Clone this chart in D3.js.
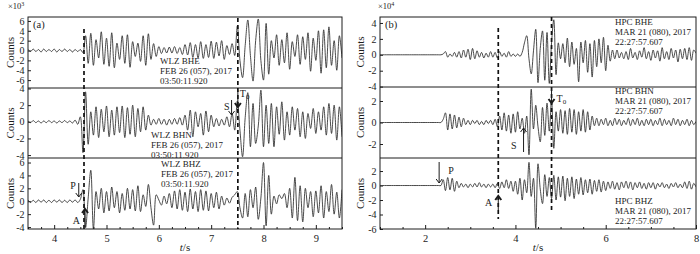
<!DOCTYPE html>
<html>
<head>
<meta charset="utf-8">
<script src="https://cdn.jsdelivr.net/npm/d3@7/dist/d3.min.js"></script>
<style>
  body { margin: 0; background: #fff; }
  svg { font-family: "Liberation Serif", "Times New Roman", serif; }
</style>
</head>
<body>
<div id="chart"></div>
<script>
// ---- data: panel (a), WLZ station, samples every 0.05 s from 3.5 s ----
const tStartA = 3.5, dtA = 0.05;
const wlzBHE = [
  0.2,-0.2,0.3,-0.2,0.2,-0.3,0.3,-0.2,0.2,-0.2,
  0.3,-0.3,0.2,-0.2,0.3,-0.2,0.2,-0.3,0.2,-0.2,
  0.2,-0.4,3.0,-2.6,3.5,-3.0,2.2,-1.5,3.8,-2.8,
  2.5,-3.2,3.6,-3.5,1.5,-1.8,3.0,-2.6,3.2,-3.4,
  1.8,-1.2,1.5,-2.2,3.0,-3.0,3.4,-1.8,1.4,-1.2,
  0.8,-0.6,0.6,-0.5,0.7,-0.5,0.8,-0.6,0.6,-0.8,
  1.2,-0.9,1.6,-1.4,1.2,-1.5,1.8,-1.6,1.2,-1.4,
  1.9,-1.6,1.7,-1.1,2.0,-1.8,1.0,-0.8,1.4,-1.0,
  5.0,-2.0,-5.5,1.0,6.2,-1.0,-6.2,2.0,6.4,-2.0,
  -6.0,5.5,-4.8,2.0,-1.5,3.2,-3.0,2.2,-2.5,3.6,
  -3.8,1.8,-1.2,3.2,-2.8,2.8,-1.8,3.6,-4.2,2.5,
  -2.0,4.0,-4.6,4.2,-3.5,4.8,-3.0,2.0,-4.0,3.0,
  -1.5
];
const wlzBHN = [
  0.1,-0.1,0.15,-0.1,0.1,-0.15,0.1,-0.1,0.15,-0.1,
  0.1,-0.15,0.1,-0.1,0.15,-0.1,0.1,-0.15,0.2,-0.3,
  0.6,-3.7,3.6,-2.7,1.2,-1.6,1.8,-1.9,1.5,-1.2,
  1.9,-1.8,1.4,-1.6,1.8,-1.3,1.9,-1.9,1.7,-1.5,
  2.0,-1.8,1.6,-1.2,1.8,-1.0,0.8,-0.4,0.3,-0.3,
  0.4,-0.3,0.3,-0.4,0.3,-0.3,0.4,-0.3,0.5,-0.4,
  0.8,-1.0,1.4,-1.8,1.2,-0.6,1.0,-1.6,1.3,-1.2,
  0.8,-0.6,0.4,-0.5,0.3,-0.4,0.6,-0.6,1.0,-1.0,
  2.5,-1.0,-4.2,0.5,3.5,-3.0,2.2,-2.6,-0.5,3.8,
  -3.0,2.0,-2.6,2.2,-3.0,1.8,-1.5,2.4,-2.2,1.2,
  -1.6,1.8,-1.0,1.6,-1.8,1.2,-2.0,1.0,-0.8,1.6,
  -1.4,1.2,-1.0,1.8,-1.6,2.2,-1.4,2.0,-2.2,1.8,
  -1.8
];
const wlzBHZ = [
  0.2,-0.2,0.15,-0.2,0.2,-0.15,0.2,-0.2,0.15,-0.2,
  0.2,-0.15,0.2,-0.2,0.15,-0.2,0.2,-0.15,0.2,-0.2,
  0.3,1.8,-4.1,0.5,4.8,-4.3,1.5,-1.2,2.0,-1.8,
  1.5,-1.5,2.2,-1.0,1.5,-1.8,1.2,-1.4,2.0,-1.2,
  1.8,-1.5,2.4,-1.6,1.0,-0.8,2.6,-1.0,-3.7,1.0,
  0.2,-0.6,0.8,-0.4,1.2,-1.0,1.6,-1.2,1.8,-1.4,
  1.4,-1.6,1.9,-1.2,1.5,-1.6,1.8,-1.4,1.6,-1.5,
  1.2,-1.0,1.4,-1.2,0.8,-0.6,0.5,-0.3,0.6,1.0,
  1.5,-1.0,-2.6,1.2,-2.4,1.8,-1.0,2.2,-2.8,0.5,
  6.0,-3.8,4.0,-2.0,0.8,-0.4,1.0,0.4,1.2,-1.0,
  2.0,-2.6,3.7,-3.0,2.4,-3.2,2.0,-1.0,1.5,-2.4,
  1.6,-1.8,2.4,-2.6,1.5,-1.6,2.6,-2.0,1.4,-2.6,
  1.8
];

// ---- data: panel (b), HPC station, samples every 0.05 s from 1 s ----
const tStartB = 1, dtB = 0.05;
const hpcBHE = [
  0,0,0,0,0,0,0,0,0,0,
  0,0,0,0,0,0,0,0,0,0,
  0,0,0,0,0,0,0,0,0.1,0.4,
  -0.3,0.1,-0.2,0.3,-0.3,0.4,-0.4,0.6,-0.3,0.7,
  -0.6,0.8,-0.5,0.5,-0.3,0.3,-0.4,0.2,-0.3,0.4,
  -0.3,0.3,-0.4,0.4,-0.2,0.2,-0.3,0.4,-0.2,0.1,
  -0.2,0.1,-0.2,0.3,1.5,2.4,-0.5,-2.4,0.5,3.2,
  -3.5,0.8,3.0,-3.2,2.8,-3.6,1.5,4.4,-2.5,1.5,
  -0.5,1.4,-1.0,2.1,-1.5,1.6,-1.2,0.8,-3.4,1.6,
  -1.0,1.8,-2.2,1.4,-2.8,1.8,-1.5,2.0,-1.0,2.2,
  -2.0,1.2,-0.8,0.6,-0.5,0.6,-0.4,0.3,-0.5,0.4,
  -0.6,0.8,-0.4,0.3,-0.6,0.5,-0.3,0.9,-0.5,0.4,
  -0.7,0.6,-0.4,0.5,-0.8,0.9,-0.5,0.4,-0.6,0.8,
  -0.4,0.6,-0.9,0.7,-0.5,0.8,-0.6,0.9,-0.7,0.6,
  0.2
];
const hpcBHN = [
  0,0,0,0,0,0,0,0,0,0,
  0,0,0,0,0,0,0,0,0,0,
  0,0,0,0,0,0,0,0,0.3,0.9,
  -0.7,0.8,-0.6,0.7,-0.5,0.5,-0.4,0.4,-0.2,0.2,
  -0.2,0.2,-0.1,0.2,-0.2,0.1,-0.2,0.2,-0.1,0.2,
  -0.2,0.3,-0.4,0.6,-0.7,0.9,-0.8,0.7,-1.0,0.8,
  -0.9,1.0,-0.6,0.4,-1.0,0.6,-3.0,3.1,-0.6,1.6,
  -0.4,-1.8,1.4,-1.2,1.8,-0.8,2.1,-2.4,1.0,-0.8,
  1.2,-1.0,1.1,-1.1,1.3,-0.9,1.2,-1.1,1.0,-0.8,
  1.2,-0.9,1.0,-0.7,0.6,-0.3,0.4,-0.3,0.3,-0.2,
  0.4,-0.3,0.2,-0.3,0.4,-0.2,0.3,-0.3,0.2,-0.2,
  0.4,-0.3,0.3,-0.2,0.4,-0.3,0.2,-0.3,0.3,-0.2,
  0.3,-0.3,0.2,-0.2,0.4,-0.3,0.3,-0.2,0.2,-0.3,
  0.4,-0.2,0.3,-0.3,0.2,-0.2,0.3,-0.3,0.2,-0.2,
  0.1
];
const hpcBHZ = [
  0,0,0,0,0,0,0,0,0,0,
  0,0,0,0,0,0,0,0,0,0,
  0,0,0,0,0,0,0,0,0.8,-0.7,
  1.1,-0.6,1.0,-0.8,0.6,-0.3,0.3,-0.2,0.2,-0.3,
  0.2,-0.2,0.3,-0.2,0.4,-0.2,0.2,-0.3,0.2,-0.2,
  0.2,-0.3,0.3,-0.4,0.5,-0.3,0.8,-0.4,0.6,-0.8,
  0.6,-1.2,1.0,-2.0,0.8,-1.0,3.2,-1.5,1.0,-5.9,
  3.0,-0.5,-2.5,1.5,-1.5,1.1,-1.8,1.4,-2.0,1.2,
  -1.6,1.3,-2.1,1.0,-1.5,1.2,-1.8,0.9,-1.2,1.1,
  -1.3,0.8,-1.0,0.9,-1.2,0.7,-0.8,0.8,-0.9,0.6,
  -0.7,0.5,-0.4,0.6,-0.5,0.4,-0.6,0.5,-0.3,0.6,
  -0.4,0.5,-0.6,0.4,-0.3,0.5,-0.4,0.3,-0.5,0.4,
  -0.3,0.4,-0.5,0.3,-0.2,0.4,-0.3,0.2,-0.4,0.3,
  -0.2,0.4,-0.3,0.2,-0.3,0.5,-0.4,0.6,-0.5,0.3,
  -0.2
];

// ---- axes, labels, picks ----
const xDomainA = [3.5, 9.5], xTicksA = [4, 5, 6, 7, 8, 9];
const xDomainB = [1, 8], xTicksB = [2, 4, 6, 8];
const yDomainsA = [[-7.6, 6.8], [-4.35, 4.06], [-4.3, 6.7]];
const yDomainsB = [[-4.05, 4.75], [-3.3, 3.3], [-6, 3.8]];
const yTicksA = [[6, 4, 2, 0, -2, -4, -6], [4, 2, 0, -2, -4], [6, 4, 2, 0, -2, -4]];
const yTicksB = [[4, 2, 0, -2, -4], [2, 0, -2], [2, 0, -2, -4, -6]];
const stationsA = ['WLZ BHE', 'WLZ BHN', 'WLZ BHZ'];
const stationsB = ['HPC BHE', 'HPC BHN', 'HPC BHZ'];
const dateA = 'FEB 26 (057), 2017', clockA = '03:50:11.920';
const dateB = 'MAR 21 (080), 2017', clockB = '22:27:57.607';
const dashedA = [4.57, 7.51];
const dashedB = [3.62, 4.8];
const pickLabelsA = ['P', 'A', 'S', 'T'];
const pickTimesA = [4.47, 4.59, 7.39, 7.51];
const pickLabelsB = ['P', 'A', 'S', 'T'];
const pickTimesB = [2.31, 3.62, 4.18, 4.8];

const ink = '#1c1c1c';

const svg = d3.select('#chart').append('svg')
    .attr('width', 700)
    .attr('height', 254);

function arrow(g, x, y1, y2, bold) {
    const dir = y2 > y1 ? 1 : -1;
    g.append('line')
        .attr('x1', x).attr('x2', x).attr('y1', y1).attr('y2', y2)
        .attr('stroke', ink).attr('stroke-width', 1);
    g.append('path')
        .attr('d', `M${x - 3},${y2 - dir * 4}L${x},${y2}L${x + 3},${y2 - dir * 4}`)
        .attr('fill', 'none')
        .attr('stroke', ink)
        .attr('stroke-width', bold ? 2 : 1);
}

function drawPanel(p) {
    const g = svg.append('g');
    const x = d3.scaleLinear().domain(p.xDomain).range([p.left, p.right]);
    const top = p.rows[0], bottom = p.rows[3];

    p.traces.forEach((vals, r) => {
        const y = d3.scaleLinear().domain(p.yDomains[r]).range([p.rows[r + 1], p.rows[r]]);
        const id = `clip-${p.key}-${r}`;
        svg.append('clipPath').attr('id', id)
            .append('rect')
            .attr('x', p.left).attr('y', p.rows[r])
            .attr('width', p.right - p.left).attr('height', p.rows[r + 1] - p.rows[r]);

        g.append('path')
            .datum(vals)
            .attr('clip-path', `url(#${id})`)
            .attr('fill', 'none')
            .attr('stroke', '#2b2b2b')
            .attr('stroke-width', 0.85)
            .attr('d', d3.line()
                .x((d, i) => x(p.t0 + i * p.dt))
                .y(d => y(d))
                .curve(d3.curveCatmullRom));

        // y axis (ticks point inward)
        const ya = g.append('g')
            .attr('transform', `translate(${p.left},0)`)
            .call(d3.axisLeft(y)
                .tickValues(p.yTicks[r])
                .tickSizeInner(-3)
                .tickSizeOuter(0)
                .tickPadding(3.5)
                .tickFormat(d => String(d)));
        ya.select('.domain').remove();
        ya.attr('font-family', null).attr('font-size', null);
        ya.selectAll('line').attr('stroke', ink);
        ya.selectAll('text').attr('fill', ink).style('font-size', '10px');

        // Counts label
        g.append('text')
            .attr('transform', `translate(${p.countsX},${(p.rows[r] + p.rows[r + 1]) / 2}) rotate(-90)`)
            .attr('text-anchor', 'middle')
            .attr('fill', ink)
            .style('font-size', '11px')
            .text('Counts');

        // station text
        const st = g.append('text')
            .attr('fill', ink)
            .style('font-size', '9px');
        [p.stations[r], p.date, p.clock].forEach((s, k) => {
            st.append('tspan')
                .attr('x', p.textX[r])
                .attr('y', p.textY[r] + k * 10)
                .text(s);
        });
    });

    // x axis on the bottom row
    const xa = g.append('g')
        .attr('transform', `translate(0,${bottom})`)
        .call(d3.axisBottom(x)
            .tickValues(p.xTicks)
            .tickSizeInner(-4)
            .tickSizeOuter(0)
            .tickPadding(5.5)
            .tickFormat(d => String(d)));
    xa.select('.domain').remove();
    xa.attr('font-family', null).attr('font-size', null);
    xa.selectAll('line').attr('stroke', ink);
    xa.selectAll('text').attr('fill', ink).style('font-size', '10.5px');

    const minor = d3.range(p.xDomain[0], p.xDomain[1] + 1e-9, p.minorStep)
        .filter(v => p.xTicks.indexOf(v) < 0);
    const xm = g.append('g')
        .attr('transform', `translate(0,${bottom})`)
        .call(d3.axisBottom(x).tickValues(minor).tickSizeInner(-2).tickSizeOuter(0).tickFormat(''));
    xm.select('.domain').remove();
    xm.selectAll('line').attr('stroke', ink);

    // frame and row separators
    g.append('rect')
        .attr('x', p.left).attr('y', top)
        .attr('width', p.right - p.left).attr('height', bottom - top)
        .attr('fill', 'none').attr('stroke', ink).attr('stroke-width', 1);
    [p.rows[1], p.rows[2]].forEach(yy => {
        g.append('line')
            .attr('x1', p.left).attr('x2', p.right).attr('y1', yy).attr('y2', yy)
            .attr('stroke', ink).attr('stroke-width', 1);
    });

    // dashed phase lines
    p.dashed.forEach((t, k) => {
        g.append('line')
            .attr('x1', x(t)).attr('x2', x(t))
            .attr('y1', p.dashSpan[k][0]).attr('y2', p.dashSpan[k][1])
            .attr('stroke', '#111')
            .attr('stroke-width', 1.7)
            .attr('stroke-dasharray', '4,3');
    });

    // picks
    p.pickLabels.forEach((lab, k) => {
        const lay = p.pickLayout[k];
        const px = x(p.pickTimes[k]);
        arrow(g, px, lay.y1, lay.y2, lay.bold);
        const tx = g.append('text')
            .attr('x', px + lay.dx)
            .attr('y', lay.by)
            .attr('text-anchor', lay.anchor)
            .attr('fill', ink)
            .style('font-size', '10px')
            .text(lab);
        if (lay.sub) {
            tx.append('tspan').attr('dy', 2).style('font-size', '7px').text(lay.sub);
        }
    });

    // panel tag and exponent
    g.append('text')
        .attr('x', p.left + 5).attr('y', 28)
        .attr('fill', ink).style('font-size', '10.5px')
        .text(p.tag);
    const ex = g.append('text')
        .attr('x', p.expX).attr('y', 9)
        .attr('fill', ink).style('font-size', '8.5px')
        .text('×10');
    ex.append('tspan').attr('dy', -3.5).style('font-size', '6px').text(p.exp);

    // t/s
    const xl = g.append('text')
        .attr('x', (p.left + p.right) / 2).attr('y', 251)
        .attr('text-anchor', 'middle')
        .attr('fill', ink).style('font-size', '11px');
    xl.append('tspan').style('font-style', 'italic').text('t');
    xl.append('tspan').text('/s');
}

drawPanel({
    key: 'a', tag: '(a)', exp: '3', expX: 8,
    left: 28, right: 342, rows: [17, 88, 158, 229], countsX: 14,
    xDomain: xDomainA, xTicks: xTicksA, minorStep: 0.25,
    t0: tStartA, dt: dtA, traces: [wlzBHE, wlzBHN, wlzBHZ],
    yDomains: yDomainsA, yTicks: yTicksA,
    stations: stationsA, date: dateA, clock: clockA,
    textX: [160, 151, 161], textY: [64, 138, 167],
    dashed: dashedA, dashSpan: [[29, 229], [18, 229]],
    pickLabels: pickLabelsA, pickTimes: pickTimesA,
    pickLayout: [
        {y1: 183, y2: 197, bold: false, dx: -3, by: 189, anchor: 'end'},
        {y1: 227, y2: 209, bold: true, dx: -5, by: 224, anchor: 'end'},
        {y1: 100, y2: 115, bold: false, dx: -2, by: 110, anchor: 'end'},
        {y1: 90, y2: 107, bold: true, dx: 2, by: 97, anchor: 'start', sub: '0'}
    ]
});

drawPanel({
    key: 'b', tag: '(b)', exp: '4', expX: 378,
    left: 380, right: 696, rows: [17, 87, 158, 229], countsX: 364,
    xDomain: xDomainB, xTicks: xTicksB, minorStep: 0.5,
    t0: tStartB, dt: dtB, traces: [hpcBHE, hpcBHN, hpcBHZ],
    yDomains: yDomainsB, yTicks: yTicksB,
    stations: stationsB, date: dateB, clock: clockB,
    textX: [615, 615, 615], textY: [25, 94, 204],
    dashed: dashedB, dashSpan: [[28, 219], [17, 212]],
    pickLabels: pickLabelsB, pickTimes: pickTimesB,
    pickLayout: [
        {y1: 162, y2: 183, bold: false, dx: 9, by: 174, anchor: 'start'},
        {y1: 210, y2: 196, bold: true, dx: -6, by: 206, anchor: 'end'},
        {y1: 152, y2: 128, bold: false, dx: -7, by: 149, anchor: 'end'},
        {y1: 87, y2: 103, bold: true, dx: 5, by: 102, anchor: 'start', sub: '0'}
    ]
});
</script>
</body>
</html>
